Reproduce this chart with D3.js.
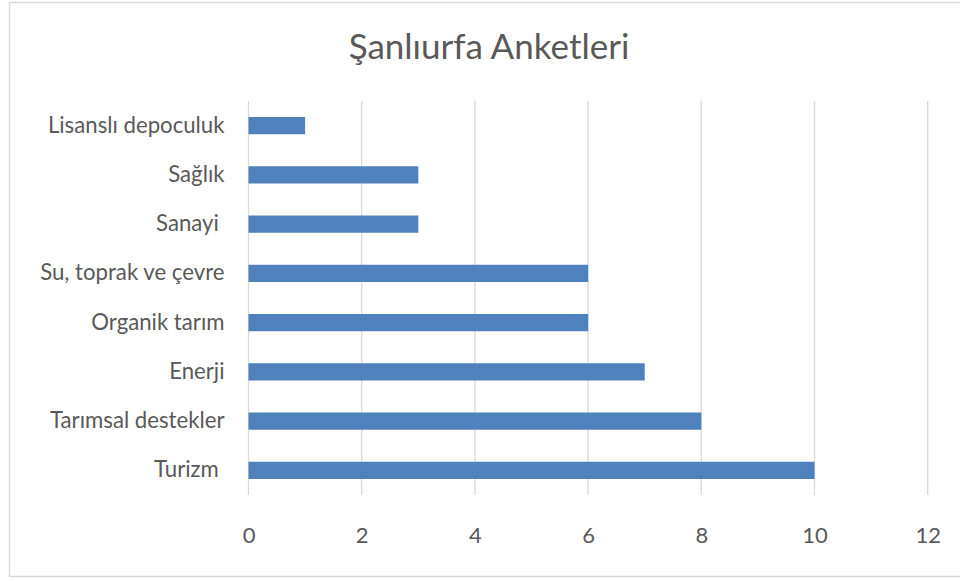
<!DOCTYPE html>
<html>
<head>
<meta charset="utf-8">
<script src="https://cdn.jsdelivr.net/npm/d3@7"></script>
<style>
  body { margin: 0; background: #fff; }
  text { font-family: Lato, "Open Sans", sans-serif; fill: #595959; white-space: pre; }
</style>
</head>
<body>
<div class="chart"></div>
<script>
// data
var categories = ["Lisanslı depoculuk", "Sağlık", "Sanayi ", "Su, toprak ve çevre", "Organik tarım", "Enerji", "Tarımsal destekler", "Turizm "];
var values = [1, 3, 3, 6, 6, 7, 8, 10];
var xTicks = [0, 2, 4, 6, 8, 10, 12];
var title = "Şanlıurfa Anketleri";

var width = 960, height = 581;
var plot = { left: 248.5, right: 927.7, top: 101, bottom: 495 };

var svg = d3.select('.chart')
    .append('svg')
    .attr('width', width)
    .attr('height', height);

// chart border
svg.append('rect')
    .attr('x', 9.5).attr('y', 2.5)
    .attr('width', 960).attr('height', 574)
    .attr('fill', '#fff')
    .attr('stroke', '#d9d9d9')
    .attr('stroke-width', 1.5);

var x = d3.scaleLinear()
    .domain([0, 12])
    .range([plot.left, plot.right]);

var y = d3.scaleBand()
    .domain(categories)
    .range([plot.top, plot.bottom])
    .paddingInner(0.65)
    .paddingOuter(0.325);

// gridlines
svg.append('g')
    .selectAll('line')
    .data(xTicks)
    .enter()
        .append('line')
        .attr('x1', function(d){return x(d)})
        .attr('x2', function(d){return x(d)})
        .attr('y1', plot.top)
        .attr('y2', plot.bottom)
        .attr('stroke', '#d9d9d9')
        .attr('stroke-width', 1.3);

// bars
svg.append('g')
    .selectAll('rect')
    .data(values)
    .enter()
        .append('rect')
        .attr('x', x(0))
        .attr('y', function(d, i){return y(categories[i])})
        .attr('width', function(d){return x(d) - x(0)})
        .attr('height', y.bandwidth())
        .attr('fill', '#4f81bd');

// axes
var xAxis = svg.append('g')
    .attr('transform', 'translate(0,' + plot.bottom + ')')
    .call(d3.axisBottom(x).tickValues(xTicks).tickSize(0).tickPadding(32));
xAxis.select('.domain').remove();
xAxis.selectAll('text')
    .style('font-size', '22px')
    .attr('fill', '#595959');

var yAxis = svg.append('g')
    .attr('transform', 'translate(' + plot.left + ',0)')
    .call(d3.axisLeft(y).tickSize(0).tickPadding(24));
yAxis.select('.domain').remove();
yAxis.selectAll('text')
    .style('font-size', '22.2px')
    .attr('fill', '#595959');

// title
svg.append('text')
    .attr('x', 489)
    .attr('y', 59)
    .attr('text-anchor', 'middle')
    .style('font-size', '35px')
    .text(title);
</script>
</body>
</html>
